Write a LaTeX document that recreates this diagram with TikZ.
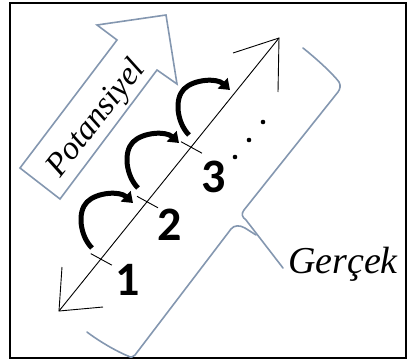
\documentclass[tikz,border=0pt]{standalone}
\usepackage{fontspec}
\newfontfamily\numfont{Carlito}
\newfontfamily\itfont{Liberation Serif}
\usetikzlibrary{arrows.meta,calc}
\definecolor{bgray}{HTML}{8497B0}
\tikzset{
  axisline/.style={black, line width=0.9pt},
  tickline/.style={black, line width=0.9pt},
  outline/.style={bgray, line width=1.6pt, line cap=round, line join=miter},
  hopline/.style={black, line width=5pt, -{Triangle[length=10pt,width=14pt]}},
  numlabel/.style={anchor=base, inner sep=0pt, font=\numfont\bfseries\fontsize{48}{48}\selectfont},
  itlabel/.style={anchor=base, inner sep=0pt, font=\itfont\itshape\fontsize{#1}{#1}\selectfont},
  hop/.pic={\draw[hopline] (0,0) .. controls (-12,-12) and (-15,-36) .. (-5,-46) .. controls (5,-56) and (28,-57) .. (41,-45);}
}
\begin{document}
\begin{tikzpicture}[x=1pt,y=-1pt]
\useasboundingbox (0,0) rectangle (409,361);
\draw[line width=2pt] (10,3) rectangle (406,358);
% block arrow
\draw[outline] (20,168) -- (117,40) -- (97,25) -- (166,15) -- (177,84) -- (157,70) -- (60,199) -- cycle;
\node[itlabel=33, rotate=52] (pot) at (103,124) {Potansiyel};
% brace
\draw[outline] (303,48) .. controls (318,60) and (333,74) .. (339,82) .. controls (341,86) and (340,89) .. (338,92) -- (244,210) .. controls (241,214) and (242,217) .. (246,220) -- (283,268);
\draw[outline] (87,332) .. controls (100,342) and (118,352) .. (128,356) .. controls (131,358) and (133,357) .. (135,355) -- (231,229) .. controls (234,225) and (240,225) .. (245,228) -- (256,235);
\node[itlabel=38] (ger) at (343,273) {Gerçek};
% axis
\coordinate (A) at (59,311);
\coordinate (B) at (279,38);
\coordinate (A1) at (62,267);
\coordinate (A2) at (103,307);
\coordinate (B1) at (233,53);
\coordinate (B2) at (278,92);
\draw[axisline] (A) -- (B);
\draw[axisline] (A1) -- (A) -- (A2);
\draw[axisline] (B1) -- (B) -- (B2);
% ticks
\coordinate (t1) at ($(A)!0.19!(B)$);
\coordinate (t2) at ($(A)!0.40!(B)$);
\coordinate (t3) at ($(A)!0.60!(B)$);
\foreach \t in {t1,t2,t3}{
  \draw[tickline] ($(\t)+(-10,-5.5)$) -- ($(\t)+(11,6)$);
}
% numbers
\node[numlabel] (n1) at (128,295) {1};
\node[numlabel] (n2) at (170,240) {2};
\node[numlabel] (n3) at (214,192) {3};
% dots
\fill (235,157) circle (2.3);
\fill (249,140) circle (2.3);
\fill (263,122) circle (2.3);
% hops
\pic at (92,248) {hop};
\pic at (138,188) {hop};
\pic at (189,135) {hop};
\end{tikzpicture}
\end{document}
